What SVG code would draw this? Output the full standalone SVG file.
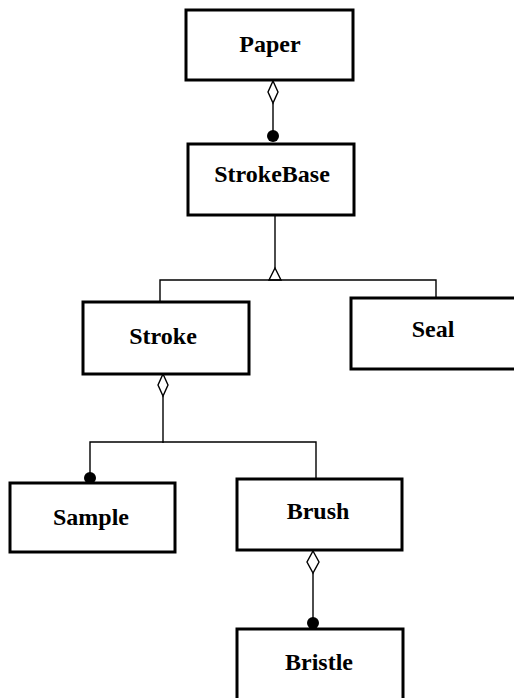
<svg xmlns="http://www.w3.org/2000/svg" width="514" height="698" viewBox="0 0 514 698">
<style>
.box{fill:#fff;stroke:#000;stroke-width:3}
.lbl{font-family:"Liberation Serif","Times New Roman",serif;font-weight:bold;font-size:24px;text-anchor:middle;fill:#000}
.ln{fill:none;stroke:#000;stroke-width:1.4}
.dia{fill:#fff;stroke:#000;stroke-width:1.4}
.dot{fill:#000}
</style>
<rect width="514" height="698" fill="#fff"/>
<g id="connectors">
<line class="ln" x1="273" y1="103" x2="273" y2="135"/>
<polygon class="dia" points="273,81 278,92 273,103 268,92"/>
<circle class="dot" cx="273" cy="136" r="6"/>
<line class="ln" x1="275" y1="215" x2="275" y2="269"/>
<polygon class="dia" points="275,268 281,280 269,280"/>
<polyline class="ln" points="160,302 160,280 436,280 436,298"/>
<line class="ln" x1="163" y1="396" x2="163" y2="443"/>
<polygon class="dia" points="163,374 168,385 163,396 158,385"/>
<polyline class="ln" points="90,477 90,442 316,442 316,480"/>
<circle class="dot" cx="90" cy="478" r="6"/>
<line class="ln" x1="313" y1="573" x2="313" y2="623"/>
<polygon class="dia" points="313,551 319,562 313,573 307,562"/>
<circle class="dot" cx="313" cy="623" r="6"/>
</g>
<g id="Paper"><rect class="box" x="186" y="10" width="167" height="70"/><text class="lbl" x="270" y="52">Paper</text></g>
<g id="StrokeBase"><rect class="box" x="188" y="144" width="166" height="71"/><text class="lbl" x="272" y="182">StrokeBase</text></g>
<g id="Stroke"><rect class="box" x="83" y="302" width="166" height="72"/><text class="lbl" x="163" y="344">Stroke</text></g>
<g id="Seal"><rect class="box" x="351" y="298" width="170" height="71"/><text class="lbl" x="433" y="337">Seal</text></g>
<g id="Sample"><rect class="box" x="10" y="483" width="165" height="69"/><text class="lbl" x="91" y="525">Sample</text></g>
<g id="Brush"><rect class="box" x="237" y="479" width="165" height="71"/><text class="lbl" x="318" y="519">Brush</text></g>
<g id="Bristle"><rect class="box" x="237" y="629" width="166" height="80"/><text class="lbl" x="319" y="670">Bristle</text></g>
</svg>
